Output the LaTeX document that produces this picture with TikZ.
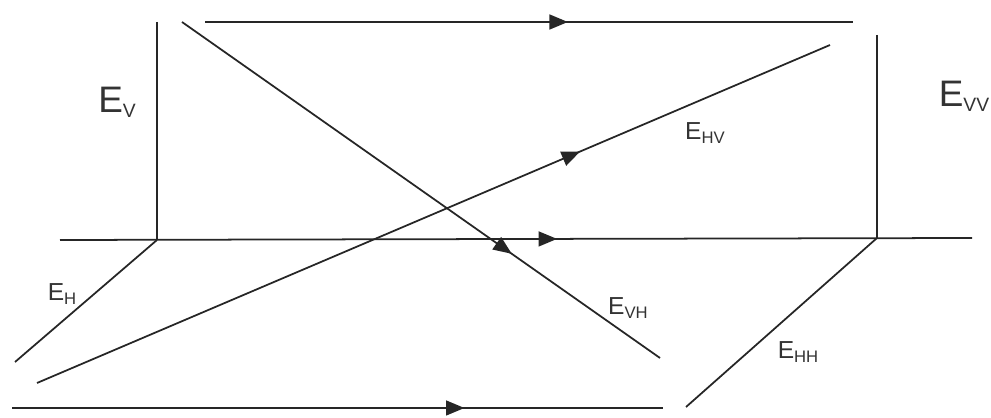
\documentclass[tikz,border=0pt]{standalone}
\usepackage{fontspec}
\setmainfont{Liberation Sans}
\usetikzlibrary{arrows.meta,decorations.markings}
\newcommand{\bigE}[1]{{\fontsize{21}{21}\selectfont E}\raisebox{-0.5ex}{\fontsize{11}{11}\selectfont #1}}
\newcommand{\smallE}[1]{{\fontsize{14}{14}\selectfont E}\raisebox{-0.35ex}{\fontsize{9.5}{9.5}\selectfont #1}}
\tikzset{
  wire/.style={line width=1pt, black!85},
  midarrow/.style={postaction={decorate},decoration={markings,
     mark=at position #1 with {\arrow{Triangle[length=10.5pt,width=8.5pt]}}}},
  lbl/.style={inner sep=0pt, text=black!80}
}
\begin{document}
\begin{tikzpicture}[x=0.02cm,y=-0.02cm]
\useasboundingbox (0,0) rectangle (991,418);
% coordinates
\coordinate (t1) at (205,22);
\coordinate (t2) at (853,22);
\coordinate (lvt) at (157,22);
\coordinate (lvb) at (157,240);
\coordinate (rvt) at (877,35);
\coordinate (rvb) at (877,238);
\coordinate (m1) at (60,240);
\coordinate (m2) at (972,238);
\coordinate (ls) at (15,362);
\coordinate (rs) at (686,407);
\coordinate (b1) at (12,408);
\coordinate (b2) at (663,408);
\coordinate (d1) at (182,22);
\coordinate (d2) at (660,358);
\coordinate (a1) at (37,383);
\coordinate (a2) at (830,45);
% lines
\draw[wire, midarrow=0.56] (t1) -- (t2);
\draw[wire] (lvt) -- (lvb);
\draw[wire] (rvt) -- (rvb);
\draw[wire, midarrow=0.545] (m1) -- (m2);
\draw[wire] (lvb) -- (ls);
\draw[wire] (rvb) -- (rs);
\draw[wire, midarrow=0.695] (b1) -- (b2);
\draw[wire, midarrow=0.69] (d1) -- (d2);
\draw[wire, midarrow=0.685] (a1) -- (a2);
% labels
\node[lbl] (ev) at (117,102) {\bigE{V}};
\node[lbl] (evv) at (964,96) {\bigE{VV}};
\node[lbl] (ehv) at (705,133) {\smallE{HV}};
\node[lbl] (eh) at (62,294) {\smallE{H}};
\node[lbl] (evh) at (628,308) {\smallE{VH}};
\node[lbl] (ehh) at (798,352) {\smallE{HH}};
\end{tikzpicture}
\end{document}
